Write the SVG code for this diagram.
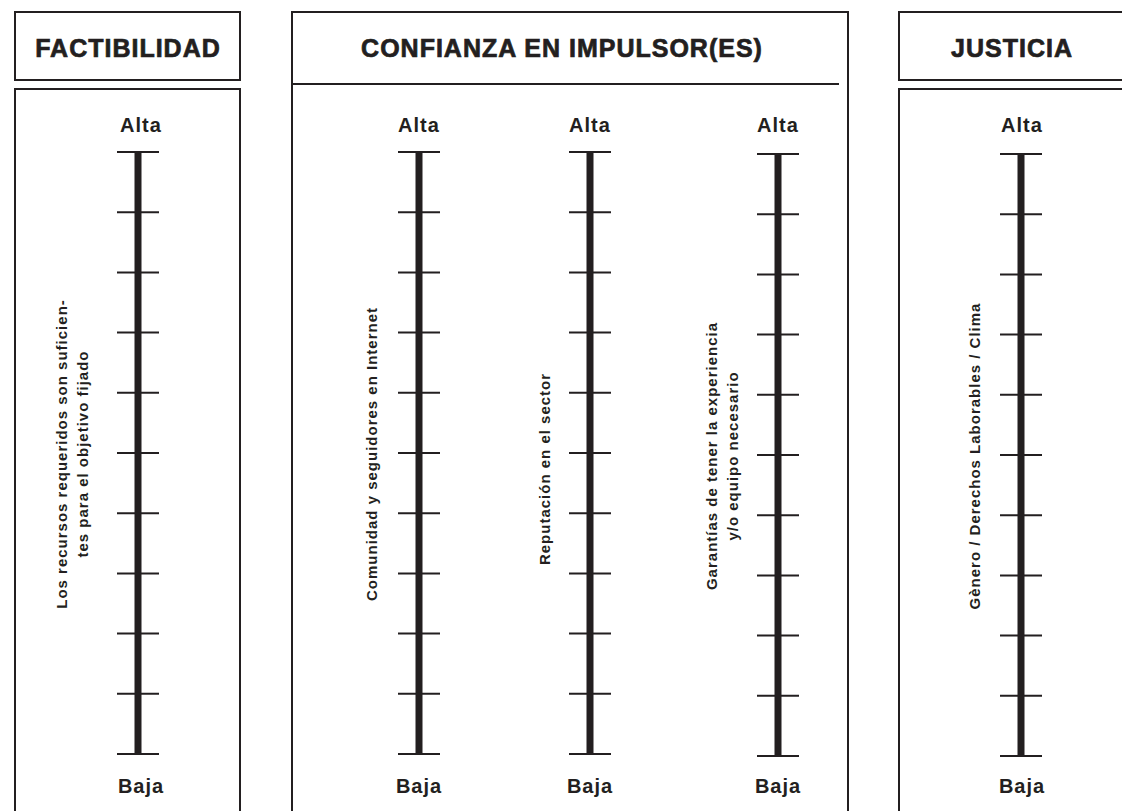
<svg xmlns="http://www.w3.org/2000/svg" width="1122" height="811" viewBox="0 0 1122 811">
<style>
.box{fill:#fff;stroke:#231f20;stroke-width:2}
.hdr{font-family:"Liberation Sans",Arial,sans-serif;font-weight:bold;font-size:25px;fill:#231f20;stroke:#231f20;stroke-width:0.7;letter-spacing:1px}
.lbl{font-family:"Liberation Sans",Arial,sans-serif;font-weight:bold;font-size:20px;fill:#231f20;letter-spacing:1px;text-anchor:middle}
.rot{font-family:"Liberation Sans",Arial,sans-serif;font-weight:bold;font-size:15px;fill:#231f20;letter-spacing:1px;text-anchor:middle}
.bar{stroke:#231f20;stroke-width:7}
.tick{stroke:#231f20;stroke-width:2}
</style>
<defs>
<g id="ticks">
<line class="tick" x1="-21" y1="0" x2="21" y2="0"/>
<line class="tick" x1="-21" y1="60.2" x2="21" y2="60.2"/>
<line class="tick" x1="-21" y1="120.4" x2="21" y2="120.4"/>
<line class="tick" x1="-21" y1="180.6" x2="21" y2="180.6"/>
<line class="tick" x1="-21" y1="240.8" x2="21" y2="240.8"/>
<line class="tick" x1="-21" y1="301" x2="21" y2="301"/>
<line class="tick" x1="-21" y1="361.2" x2="21" y2="361.2"/>
<line class="tick" x1="-21" y1="421.4" x2="21" y2="421.4"/>
<line class="tick" x1="-21" y1="481.6" x2="21" y2="481.6"/>
<line class="tick" x1="-21" y1="541.8" x2="21" y2="541.8"/>
<line class="tick" x1="-21" y1="602" x2="21" y2="602"/>
<line class="bar" x1="0" y1="-1" x2="0" y2="603"/>
</g>
</defs>

<g id="factibilidad">
<rect class="box" x="15" y="12" width="225" height="68"/>
<text class="hdr" x="128" y="57" text-anchor="middle">FACTIBILIDAD</text>
<rect class="box" x="15" y="89" width="225" height="740"/>
</g>

<g id="confianza">
<rect class="box" x="292" y="12" width="556" height="820"/>
<line x1="292" y1="84" x2="839" y2="84" stroke="#231f20" stroke-width="2"/>
<text class="hdr" x="562" y="57" text-anchor="middle">CONFIANZA EN IMPULSOR(ES)</text>
</g>

<g id="justicia">
<rect class="box" x="899" y="12" width="225" height="68"/>
<text class="hdr" x="1012" y="57" text-anchor="middle">JUSTICIA</text>
<rect class="box" x="899" y="89" width="225" height="740"/>
</g>

<g id="scale-recursos">
<use href="#ticks" x="138" y="152"/>
<text class="lbl" x="141" y="132">Alta</text>
<text class="lbl" x="141" y="793">Baja</text>
<text class="rot" transform="translate(67,454) rotate(-90)">Los recursos requeridos son suficien-</text>
<text class="rot" transform="translate(88,454) rotate(-90)">tes para el objetivo fijado</text>
</g>

<g id="scale-comunidad">
<use href="#ticks" x="419" y="152"/>
<text class="lbl" x="419" y="132">Alta</text>
<text class="lbl" x="419" y="793">Baja</text>
<text class="rot" transform="translate(377,454) rotate(-90)">Comunidad y seguidores en Internet</text>
</g>

<g id="scale-reputacion">
<use href="#ticks" x="590" y="152"/>
<text class="lbl" x="590" y="132">Alta</text>
<text class="lbl" x="590" y="793">Baja</text>
<text class="rot" transform="translate(550,469) rotate(-90)">Reputación en el sector</text>
</g>

<g id="scale-garantias">
<use href="#ticks" x="778" y="154"/>
<text class="lbl" x="778" y="132">Alta</text>
<text class="lbl" x="778" y="793">Baja</text>
<text class="rot" transform="translate(717,456) rotate(-90)">Garantías de tener la experiencia</text>
<text class="rot" transform="translate(738,456) rotate(-90)">y/o equipo necesario</text>
</g>

<g id="scale-genero">
<use href="#ticks" x="1021" y="154"/>
<text class="lbl" x="1022" y="132">Alta</text>
<text class="lbl" x="1022" y="793">Baja</text>
<text class="rot" transform="translate(980,456) rotate(-90)">Gènero / Derechos Laborables / Clima</text>
</g>

<g id="connectors"></g>
</svg>
